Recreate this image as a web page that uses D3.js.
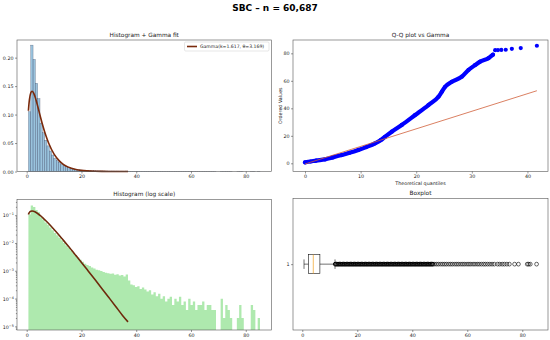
<!DOCTYPE html>
<html><head><meta charset="utf-8">
<script src="https://cdn.jsdelivr.net/npm/d3@7"></script>
<style>body{margin:0;background:#fff} svg{display:block} text{font-family:"DejaVu Sans",sans-serif}</style>
</head><body><svg id="c" width="550" height="340"></svg>
<script>
// ---------------- DATA ----------------
const titleText = "SBC – n = 60,687";
const binStart = 0.63, binWidth = 0.8457;
const density = [
 0.105,0.222,0.197,0.155,0.128,0.085,0.068,0.055,0.045,0.036,
 0.029,0.023,0.019,0.0155,0.0125,0.0100,0.0082,0.0066,0.0054,0.0044,
 0.0036,0.0030,0.0025,0.0021,0.0018,0.0016,0.0015,0.0013,0.0012,0.0011,
 0.00105,0.00098,0.00090,0.00085,0.00082,0.00078,0.00080,0.00072,0.00075,0.00068,
 0.00070,0.00062,0.00074,0.00045,0.00032,0.00030,0.00026,0.00028,0.00022,0.00025,
 0.00021,0.00018,0.00020,0.00014,0.00017,0.00012,0.00015,0.000098,0.00012,0.000078,
 0.000098,0.000117,0.000059,0.000098,0.000078,0.000117,0.000059,0.000078,0.000039,0.000098,
 0.000059,0.000078,0.000039,0.000059,0.000059,0.000078,0.000039,0.000059,0.000059,0.000039,
 0.000039,0,0,0.000098,0.000020,0.000059,0.000039,0.000020,0,0,
 0.000020,0.000059,0.000020,0,0,0,0.000059,0.000039,0,0.000020
];
const gammaX = [0.63,0.8,1.0,1.5,1.95,2.5,3,4,5,6,7,8,10,12,13.5,15,18,20,22,25,27.5,30,32.5,35,37];
const gammaY = [0.1066,0.1171,0.1261,0.1384,0.1411,0.1383,0.1322,0.1151,0.0963,0.0787,0.0631,0.0500,0.0305,0.0182,0.01217,0.0081,0.00351,0.00200,0.001125,0.000473,0.0002276,0.000109,0.0000521,0.0000248,0.0000145];
const legendLabel = "Gamma(k=1.617, θ=3.169)";

const qqTheo    = [0.0,1.0,2.0,3.6,5.0,6.6,8.0,9.6,11.0,12.6,13.6,14.4,15.6,17.4,19.8,22.2,24.0,24.6,25.2,26.4,28.2,29.4,30.6,31.5,33.0,33.8,34.2,34.7,35.3,36.1,37.2,38.8,41.7];
const qqOrdered = [0.7,1.3,2.0,2.9,4.3,6.0,7.6,9.7,11.8,14.5,16.8,19.3,23.0,27.9,35.1,42.4,48.4,52.0,55.7,59.3,63.0,67.9,71.5,74.0,76.5,79.0,82.3,82.4,82.5,82.6,83.3,83.8,85.5];
const qqDenseCount = 26; // first points form the dense band
const qqLineX = [0, 41.7], qqLineY = [-0.5, 52.8];

const boxLow = 0.63, boxQ1 = 2.2, boxMedian = 4.0, boxQ3 = 6.4, boxHigh = 11.9;
const fliers = [
 12.0,12.5,13.0,13.5,14.0,14.5,15.0,15.5,16.0,16.5,17.0,17.5,18.0,18.5,19.0,19.5,20.0,20.5,21.0,21.5,
 22.0,22.5,23.0,23.5,24.0,24.5,25.0,25.5,26.0,26.5,27.0,27.5,28.0,28.5,29.0,29.5,30.0,30.5,31.0,31.5,
 32.0,32.5,33.0,33.5,34.0,34.5,35.0,35.5,36.0,36.5,37.0,37.5,38.0,38.5,39.0,39.5,40.0,40.5,41.0,41.5,
 42.0,42.5,43.0,43.5,44.0,44.5,45.0,45.5,46.0,46.5,47.0,47.5,
 48.2,48.9,49.6,50.4,51.1,51.8,52.5,53.3,54.0,54.7,55.5,56.2,56.9,57.7,58.4,59.1,59.9,60.6,61.3,62.1,
 62.8,63.6,64.3,65.1,65.9,66.6,67.4,68.2,69.0,69.8,71.0,71.8,72.7,73.5,74.4,75.3,77.2,78.6,81.8,82.3,82.9,85.2
];
const xTicks80 = [0,20,40,60,80];
const yTicksLin = [0,0.05,0.10,0.15,0.20];
const logExps = [-5,-4,-3,-2,-1];
const qqXTicks = [0,10,20,30,40];
const qqYTicks = [0,20,40,60,80];

// ---------------- DRAW ----------------
const svg = d3.select("#c");
svg.append("rect").attr("width",550).attr("height",340).attr("fill","#fff");
const FS = 4.8, FRAME = "#555";

svg.append("text").attr("x",275).attr("y",10.5).attr("text-anchor","middle")
  .attr("font-size",9).attr("font-weight","bold").text(titleText);

function styleAxis(g){
  g.select(".domain").remove();
  g.selectAll(".tick line").attr("stroke","#333").attr("stroke-width",0.5);
  g.selectAll(".tick text").attr("font-size",FS).attr("fill","#222").attr("font-family","DejaVu Sans");
}
function frame(x0,y0,x1,y1){
  svg.append("rect").attr("x",x0).attr("y",y0).attr("width",x1-x0).attr("height",y1-y0)
    .attr("fill","none").attr("stroke",FRAME).attr("stroke-width",0.6);
}
function subTitle(cx,y,t){
  svg.append("text").attr("x",cx).attr("y",y).attr("text-anchor","middle").attr("font-size",5.8).attr("fill","#222").text(t);
}
const edges = density.map((d,i)=>binStart+i*binWidth);

// ---- Panel 1: histogram + gamma fit ----
{
  const L=17,R=271.5,T=40,B=171.5;
  const x = d3.scaleLinear().domain([-3.54,89.4]).range([L,R]);
  const y = d3.scaleLinear().domain([0,0.231]).range([B,T]);
  const g = svg.append("g");
  g.selectAll("rect").data(density).join("rect")
    .attr("x",(d,i)=>x(edges[i])).attr("width",(d,i)=>x(edges[i]+binWidth)-x(edges[i]))
    .attr("y",d=>y(d)).attr("height",d=>B-y(d))
    .attr("fill","rgba(120,175,210,0.75)").attr("stroke","rgba(50,60,90,0.75)").attr("stroke-width",0.35);
  const line = d3.line().x((d,i)=>x(gammaX[i])).y(d=>y(d)).curve(d3.curveMonotoneX);
  svg.append("path").attr("d",line(gammaY)).attr("fill","none").attr("stroke","#7a2a0c").attr("stroke-width",1.6);
  frame(L,T,R,B);
  svg.append("g").attr("transform",`translate(0,${B})`).call(d3.axisBottom(x).tickValues(xTicks80).tickSize(2).tickPadding(1.5)).call(styleAxis);
  svg.append("g").attr("transform",`translate(${L},0)`).call(d3.axisLeft(y).tickValues(yTicksLin).tickFormat(d3.format(".2f")).tickSize(2).tickPadding(1.5)).call(styleAxis);
  subTitle((L+R)/2,37,"Histogram + Gamma fit");
  const lg = svg.append("g");
  lg.append("rect").attr("x",184.5).attr("y",42).attr("width",84.5).attr("height",9).attr("rx",1.2)
    .attr("fill","#fff").attr("fill-opacity",0.8).attr("stroke","#ccc").attr("stroke-width",0.5);
  lg.append("line").attr("x1",187).attr("x2",197).attr("y1",46.5).attr("y2",46.5).attr("stroke","#7a2a0c").attr("stroke-width",1.6);
  lg.append("text").attr("x",200).attr("y",48.2).attr("font-size",4.6).attr("fill","#222").text(legendLabel);
}

// ---- Panel 2: Q-Q plot ----
{
  const L=293,R=548,T=40,B=171.5;
  const x = d3.scaleLinear().domain([-2.16,43.7]).range([L,R]);
  const y = d3.scaleLinear().domain([-5.96,89.7]).range([B,T]);
  const dense = qqTheo.slice(0,qqDenseCount);
  const line = d3.line().x(d=>x(d)).y((d,i)=>y(qqOrdered[i])).curve(d3.curveMonotoneX);
  svg.append("path").attr("d",line(dense)).attr("fill","none").attr("stroke","#0000ff")
    .attr("stroke-width",4.2).attr("stroke-linecap","round").attr("stroke-linejoin","round");
  svg.append("g").selectAll("circle").data(qqTheo).join("circle")
    .attr("cx",d=>x(d)).attr("cy",(d,i)=>y(qqOrdered[i])).attr("r",2.1).attr("fill","#0000ff");
  svg.append("line").attr("x1",x(qqLineX[0])).attr("y1",y(qqLineY[0])).attr("x2",x(qqLineX[1])).attr("y2",y(qqLineY[1]))
    .attr("stroke","#d0603a").attr("stroke-width",0.8);
  frame(L,T,R,B);
  svg.append("g").attr("transform",`translate(0,${B})`).call(d3.axisBottom(x).tickValues(qqXTicks).tickSize(2).tickPadding(1.5)).call(styleAxis);
  svg.append("g").attr("transform",`translate(${L},0)`).call(d3.axisLeft(y).tickValues(qqYTicks).tickSize(2).tickPadding(1.5)).call(styleAxis);
  subTitle((L+R)/2,37,"Q-Q plot vs Gamma");
  svg.append("text").attr("x",(L+R)/2).attr("y",185).attr("text-anchor","middle").attr("font-size",FS).attr("fill","#222").text("Theoretical quantiles");
  svg.append("text").attr("transform",`translate(281.5,${(T+B)/2}) rotate(-90)`).attr("text-anchor","middle").attr("font-size",FS).attr("fill","#222").text("Ordered Values");
}

// ---- Panel 3: log histogram ----
{
  const L=17,R=271.5,T=199.5,B=330;
  const x = d3.scaleLinear().domain([-3.54,89.4]).range([L,R]);
  const y = d3.scaleLog().domain([7.4e-6,0.367]).range([B,T]);
  // one step outline built from the bins (no seams between adjacent bars)
  const p = d3.path();
  let open = false;
  density.forEach((d,i)=>{
    const x0=x(edges[i]), x1=x(edges[i]+binWidth);
    if(d>0){
      const yt=Math.max(T,y(d));
      if(!open){ p.moveTo(x0,B); open=true; }
      p.lineTo(x0,yt); p.lineTo(x1,yt);
    } else if(open){
      p.lineTo(x0,B); p.closePath(); open=false;
    }
  });
  if(open){ p.lineTo(x(edges[edges.length-1]+binWidth),B); p.closePath(); }
  svg.append("path").attr("d",p.toString()).attr("fill","#aee9ae");
  const line = d3.line().x((d,i)=>x(gammaX[i])).y(d=>y(d)).curve(d3.curveMonotoneX);
  svg.append("path").attr("d",line(gammaY)).attr("fill","none").attr("stroke","#6e2a0c").attr("stroke-width",1.6);
  frame(L,T,R,B);
  svg.append("g").attr("transform",`translate(0,${B})`).call(d3.axisBottom(x).tickValues(xTicks80).tickSize(2).tickPadding(1.5)).call(styleAxis);
  const minors=[];
  for(let e=-6;e<=-1;e++) for(let m=2;m<=9;m++){const v=m*Math.pow(10,e); if(v>7.4e-6&&v<0.367) minors.push(v);}
  svg.append("g").attr("transform",`translate(${L},0)`).call(d3.axisLeft(y).tickValues(minors).tickFormat(()=>"").tickSize(1.1)).call(styleAxis);
  const ya = svg.append("g").attr("transform",`translate(${L},0)`)
    .call(d3.axisLeft(y).tickValues(logExps.map(e=>Math.pow(10,e))).tickFormat(()=>"").tickSize(2)).call(styleAxis);
  ya.selectAll(".tick").each(function(d){
    const t=d3.select(this).append("text").attr("x",-3.2).attr("dy","0.35em").attr("text-anchor","end").attr("font-size",FS).attr("fill","#222");
    t.append("tspan").text("10");
    t.append("tspan").attr("dy",-1.9).attr("font-size",3.4).text("−"+(-Math.round(Math.log10(d))));
  });
  subTitle((L+R)/2,196,"Histogram (log scale)");
}

// ---- Panel 4: boxplot ----
{
  const L=293,R=548,T=198.3,B=330;
  const x = d3.scaleLinear().domain([-3.38,89.35]).range([L,R]);
  const y = d3.scaleLinear().domain([0.5,1.5]).range([B,T]);
  const c = y(1), hw = (y(0.928)-y(1.072))/2;
  const g = svg.append("g").attr("stroke","#111").attr("stroke-width",0.6).attr("fill","none");
  g.append("line").attr("x1",x(boxLow)).attr("x2",x(boxQ1)).attr("y1",c).attr("y2",c);
  g.append("line").attr("x1",x(boxQ3)).attr("x2",x(boxHigh)).attr("y1",c).attr("y2",c);
  g.append("line").attr("x1",x(boxLow)).attr("x2",x(boxLow)).attr("y1",c-hw/2).attr("y2",c+hw/2);
  g.append("line").attr("x1",x(boxHigh)).attr("x2",x(boxHigh)).attr("y1",c-hw/2).attr("y2",c+hw/2);
  g.append("rect").attr("x",x(boxQ1)).attr("y",c-hw).attr("width",x(boxQ3)-x(boxQ1)).attr("height",2*hw);
  svg.append("line").attr("x1",x(boxMedian)).attr("x2",x(boxMedian)).attr("y1",c-hw).attr("y2",c+hw).attr("stroke","#f0a020").attr("stroke-width",0.7);
  svg.append("g").selectAll("circle").data(fliers).join("circle")
    .attr("cx",d=>x(d)).attr("cy",c).attr("r",1.9).attr("fill","none").attr("stroke","#000")
    .attr("stroke-width",d=>d<48?1.0:0.6);
  frame(L,T,R,B);
  svg.append("g").attr("transform",`translate(0,${B})`).call(d3.axisBottom(x).tickValues(xTicks80).tickSize(2).tickPadding(1.5)).call(styleAxis);
  svg.append("g").attr("transform",`translate(${L},0)`).call(d3.axisLeft(y).tickValues([1]).tickFormat(d3.format("d")).tickSize(2).tickPadding(1.5)).call(styleAxis);
  subTitle((L+R)/2,195,"Boxplot");
}
</script></body></html>
